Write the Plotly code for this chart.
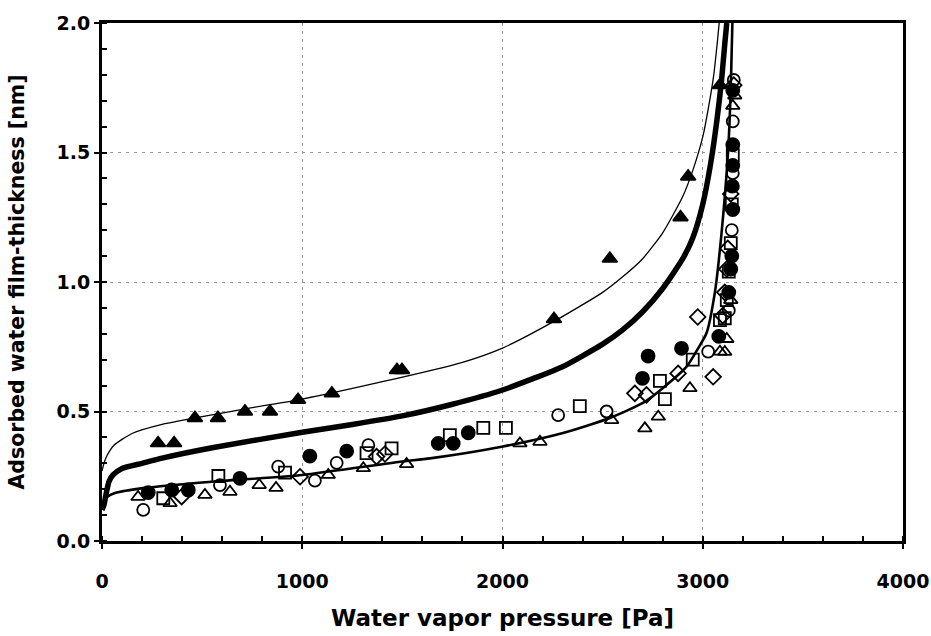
import plotly.graph_objects as go

# ---- curves ----
thin_x = [0, 10, 25, 60, 150, 300, 500, 750, 1000, 1400, 1800, 2000, 2250, 2500, 2600, 2700, 2800, 2900, 2950, 3000, 3030, 3055, 3072, 3082]
thin_y = [0.27, 0.30, 0.33, 0.37, 0.415, 0.45, 0.48, 0.515, 0.548, 0.615, 0.69, 0.745, 0.845, 0.96, 1.02, 1.09, 1.19, 1.33, 1.43, 1.56, 1.68, 1.80, 1.92, 2.0]

thick_x = [0, 10, 20, 35, 55, 100, 200, 300, 550, 1000, 1250, 1500, 1750, 2000, 2300, 2400, 2500, 2600, 2700, 2800, 2900, 2950, 3000, 3040, 3070, 3094, 3110, 3120]
thick_y = [0.12, 0.14, 0.18, 0.23, 0.255, 0.28, 0.30, 0.32, 0.36, 0.42, 0.45, 0.483, 0.528, 0.583, 0.673, 0.715, 0.76, 0.815, 0.885, 0.975, 1.09, 1.17, 1.30, 1.46, 1.62, 1.78, 1.92, 2.0]

low_x = [0, 10, 25, 65, 215, 548, 1000, 1488, 1638, 1996, 2302, 2536, 2701, 2800, 2919, 2970, 3019, 3060, 3094, 3127, 3140, 3148]
low_y = [0.14, 0.155, 0.17, 0.185, 0.205, 0.229, 0.255, 0.306, 0.319, 0.364, 0.417, 0.475, 0.533, 0.59, 0.673, 0.735, 0.803, 0.957, 1.19, 1.51, 1.75, 2.0]

# ---- data points ----
ftri_x = [280, 360, 464, 579, 714, 839, 979, 1148, 1473, 1498, 2257, 2536, 2889, 2927, 3086]
ftri_y = [0.378, 0.378, 0.475, 0.475, 0.50, 0.50, 0.545, 0.57, 0.66, 0.66, 0.857, 1.09, 1.25, 1.407, 1.76]

fcir_x = [231, 348, 431, 689, 1038, 1222, 1679, 1754, 1829, 2699, 2727, 2894, 3080, 3130, 3140, 3145, 3150, 3148, 3150, 3150, 3150]
fcir_y = [0.187, 0.197, 0.197, 0.242, 0.328, 0.347, 0.377, 0.377, 0.418, 0.628, 0.714, 0.744, 0.79, 0.96, 1.05, 1.10, 1.28, 1.37, 1.45, 1.53, 1.74]

ocir_x = [206, 589, 880, 1063, 1172, 1330, 2278, 2520, 3027, 3130, 3145, 3150, 3150, 3155]
ocir_y = [0.12, 0.216, 0.287, 0.233, 0.302, 0.37, 0.486, 0.50, 0.731, 0.89, 1.20, 1.42, 1.62, 1.78]

osq_x = [306, 581, 914, 1321, 1446, 1737, 1904, 2017, 2386, 2786, 2811, 2950, 3086, 3110, 3120, 3130, 3140, 3145, 3150]
osq_y = [0.165, 0.251, 0.264, 0.339, 0.358, 0.409, 0.437, 0.437, 0.521, 0.618, 0.548, 0.70, 0.853, 0.86, 0.93, 1.04, 1.15, 1.30, 1.49]

odia_x = [398, 989, 1371, 1413, 2661, 2719, 2877, 2975, 3052, 3100, 3110, 3120, 3125, 3140, 3155]
odia_y = [0.171, 0.248, 0.326, 0.336, 0.57, 0.564, 0.647, 0.865, 0.634, 0.87, 0.96, 1.05, 1.13, 1.34, 1.76]

otri_x = [180, 340, 514, 639, 785, 869, 1130, 1305, 1521, 2087, 2187, 2545, 2711, 2778, 2936, 3086, 3110, 3120, 3140, 3150, 3160]
otri_y = [0.17, 0.146, 0.178, 0.19, 0.216, 0.205, 0.255, 0.281, 0.297, 0.377, 0.383, 0.467, 0.435, 0.48, 0.59, 0.731, 0.73, 0.78, 0.93, 1.68, 1.72]

x_ticks = [0, 1000, 2000, 3000, 4000]
y_ticks = [0.0, 0.5, 1.0, 1.5, 2.0]

fig = go.Figure()
fig.add_trace(go.Scatter(x=thin_x, y=thin_y, mode="lines", line=dict(color="black", width=1.3, shape="spline", smoothing=0.6)))
fig.add_trace(go.Scatter(x=thick_x, y=thick_y, mode="lines", line=dict(color="black", width=5.5, shape="spline", smoothing=0.6)))
fig.add_trace(go.Scatter(x=low_x, y=low_y, mode="lines", line=dict(color="black", width=2.6, shape="spline", smoothing=0.6)))

mk = dict(color="black", size=12, line=dict(color="black", width=1.8))
fig.add_trace(go.Scatter(x=ftri_x, y=ftri_y, mode="markers", marker=dict(mk, symbol="triangle-up", size=13)))
fig.add_trace(go.Scatter(x=fcir_x, y=fcir_y, mode="markers", marker=dict(mk, symbol="circle", size=13)))
fig.add_trace(go.Scatter(x=ocir_x, y=ocir_y, mode="markers", marker=dict(mk, symbol="circle-open")))
fig.add_trace(go.Scatter(x=osq_x, y=osq_y, mode="markers", marker=dict(mk, symbol="square-open")))
fig.add_trace(go.Scatter(x=odia_x, y=odia_y, mode="markers", marker=dict(mk, symbol="diamond-open")))
fig.add_trace(go.Scatter(x=otri_x, y=otri_y, mode="markers", marker=dict(mk, symbol="triangle-up-open")))

tickfont = dict(family="DejaVu Sans", size=19, color="black", weight="bold")
xtitlefont = dict(family="DejaVu Sans", size=23, color="black", weight="bold")
ytitlefont = dict(family="DejaVu Sans", size=20.5, color="black", weight="bold")

fig.update_layout(
    width=931, height=636,
    margin=dict(l=102, r=28, t=23, b=95),
    paper_bgcolor="white", plot_bgcolor="white",
    showlegend=False,
    xaxis=dict(
        range=[0, 4000], tickvals=x_ticks, ticktext=[str(v) for v in x_ticks],
        showline=True, linecolor="black", linewidth=3, mirror=True,
        ticks="outside", ticklen=5, tickwidth=1.5, tickcolor="black",
        showgrid=True, gridcolor="#999999", griddash="3px,5px", gridwidth=1.2,
        minor=dict(dtick=200, ticks="inside", ticklen=5, tickcolor="black", showgrid=False),
        zeroline=False, tickfont=tickfont, automargin=False, ticklabelstandoff=16,
        title=dict(text="Water vapor pressure [Pa]", font=xtitlefont, standoff=20),
    ),
    yaxis=dict(
        range=[0, 2.0], tickvals=y_ticks, ticktext=["%.1f" % v for v in y_ticks],
        showline=True, linecolor="black", linewidth=3, mirror=True,
        ticks="outside", ticklen=5, tickwidth=1.5, tickcolor="black",
        showgrid=True, gridcolor="#999999", griddash="3px,5px", gridwidth=1.2,
        minor=dict(dtick=0.1, ticks="inside", ticklen=5, tickcolor="black", showgrid=False),
        zeroline=False, tickfont=tickfont, automargin=False,
        title=dict(text="Adsorbed water film-thickness [nm]", font=ytitlefont, standoff=27),
    ),
)

fig.write_html(
    "out.html",
    config={"displayModeBar": False},
    post_script="document.body.style.margin='0';document.body.style.overflow='hidden';",
)
